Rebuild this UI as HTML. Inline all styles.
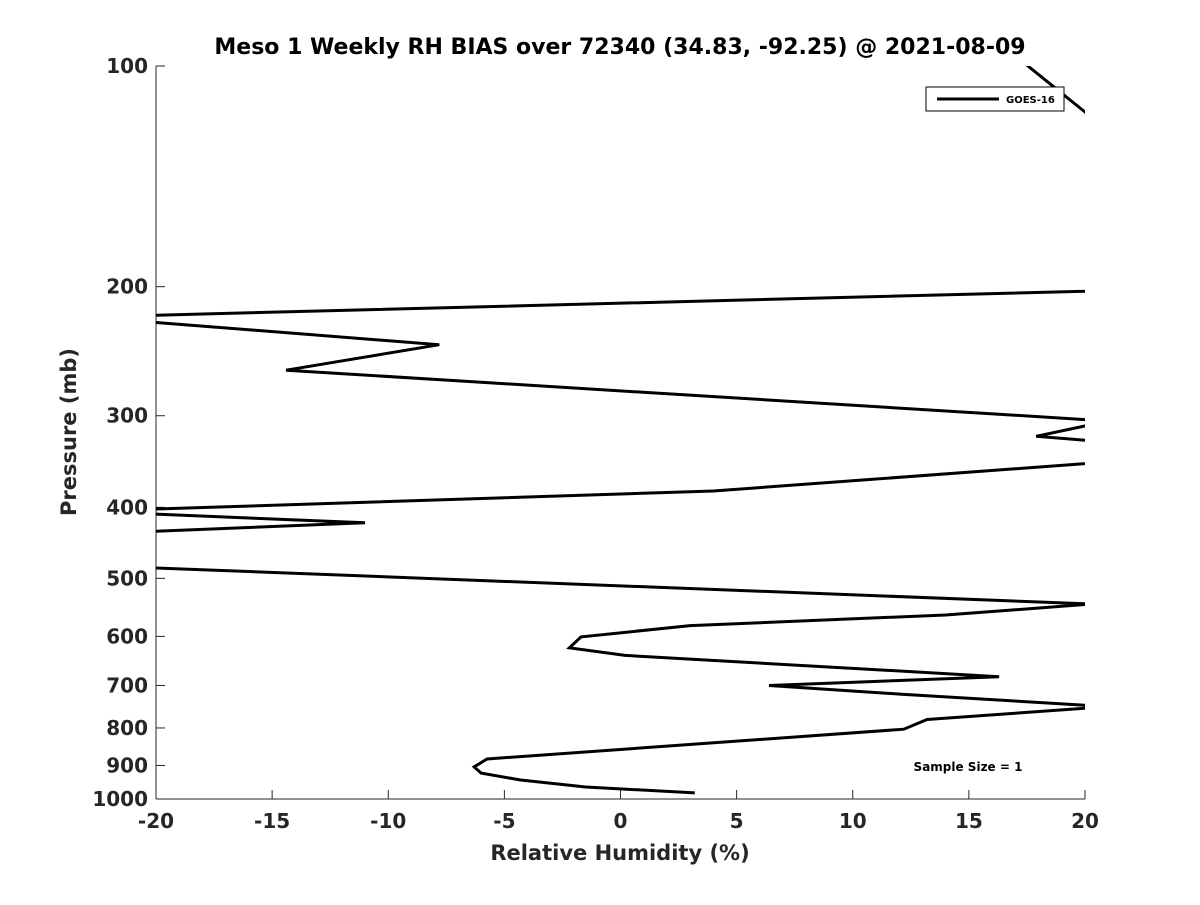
<!DOCTYPE html>
<html><head><meta charset="utf-8"><style>
body{margin:0;background:#fff;}
svg text{font-family:"DejaVu Sans","Liberation Sans",sans-serif;font-weight:bold;fill:#262626;}
</style></head><body>
<svg id="chart" width="1200" height="900" xmlns="http://www.w3.org/2000/svg">
<defs><clipPath id="clip"><rect x="156" y="66" width="929" height="733"/></clipPath></defs>
<rect x="0" y="0" width="1200" height="900" fill="#fff"/>
<text x="620" y="54" font-size="22" text-anchor="middle" style="fill:#000">Meso 1 Weekly RH BIAS over 72340 (34.83, -92.25) @ 2021-08-09</text>
<g id="axes"></g>
<g clip-path="url(#clip)"><path id="series" fill="none" stroke="#000" stroke-width="3" stroke-linejoin="miter"/></g>
<g>
<rect x="926" y="87" width="138" height="24" fill="#fff" stroke="#000" stroke-width="1"/>
<line x1="937" y1="99" x2="999" y2="99" stroke="#000" stroke-width="3"/>
<text x="1006" y="103" font-size="10" style="fill:#000">GOES-16</text>
</g>
<text x="968" y="771" font-size="12" text-anchor="middle" style="fill:#000">Sample Size = 1</text>
<text x="620" y="860" font-size="21" text-anchor="middle">Relative Humidity (%)</text>
<text transform="translate(76,432) rotate(-90)" font-size="21" text-anchor="middle">Pressure (mb)</text>
</svg>
<script>
const rhValues=[17.2,22,25,-23,-7.8,-14.4,21,17.9,21,22,4.0,-23,-11.0,-23,-23,20.3,14.0,3.0,-1.7,-2.2,0.2,16.3,6.4,12.2,21,13.2,12.2,-5.75,-6.3,-6.0,-4.3,-1.5,3.2];
const pressureValues=[98,130,201,220,240,260,305,320,326,345,380,405,420,435,480,542,561,580,601,622,637,681,700,720,748,779,803,882,904,922,942,963,981];
const xTicks=[-20,-15,-10,-5,0,5,10,15,20];
const yTicks=[100,200,300,400,500,600,700,800,900,1000];
const X0=156,X1=1085,Y0=66,Y1=799;
function xs(v){return X0+(v+20)/40*(X1-X0);}
function ys(p){return Y0+Math.log10(p/100)*(Y1-Y0);}
const ns="http://www.w3.org/2000/svg";
const ax=document.getElementById('axes');
function mk(t,a){const e=document.createElementNS(ns,t);for(const k in a)e.setAttribute(k,a[k]);ax.appendChild(e);return e;}
const xl=mk('line',{x1:X0,y1:Y1,x2:X1,y2:Y1,stroke:'#262626','stroke-width':1});


const yl=mk('line',{x1:X0,y1:Y0,x2:X0,y2:Y1,stroke:'#262626','stroke-width':1});


xTicks.forEach(v=>{const x=xs(v);
 mk('line',{x1:x,y1:Y1,x2:x,y2:Y1-9,stroke:'#262626','stroke-width':1});
 const t=mk('text',{x:x,y:Y1+29,'font-size':20,'text-anchor':'middle'});t.textContent=v;
 
 });
yTicks.forEach(p=>{const y=ys(p);
 mk('line',{x1:X0,y1:y,x2:X0+9,y2:y,stroke:'#262626','stroke-width':1});
 const t=mk('text',{x:X0-8,y:y+7,'font-size':20,'text-anchor':'end'});t.textContent=p;
 
 });
let d='';rhValues.forEach((v,i)=>{d+=(i?'L':'M')+xs(v).toFixed(1)+' '+ys(pressureValues[i]).toFixed(1);});
document.getElementById('series').setAttribute('d',d);
</script>
</body></html>
